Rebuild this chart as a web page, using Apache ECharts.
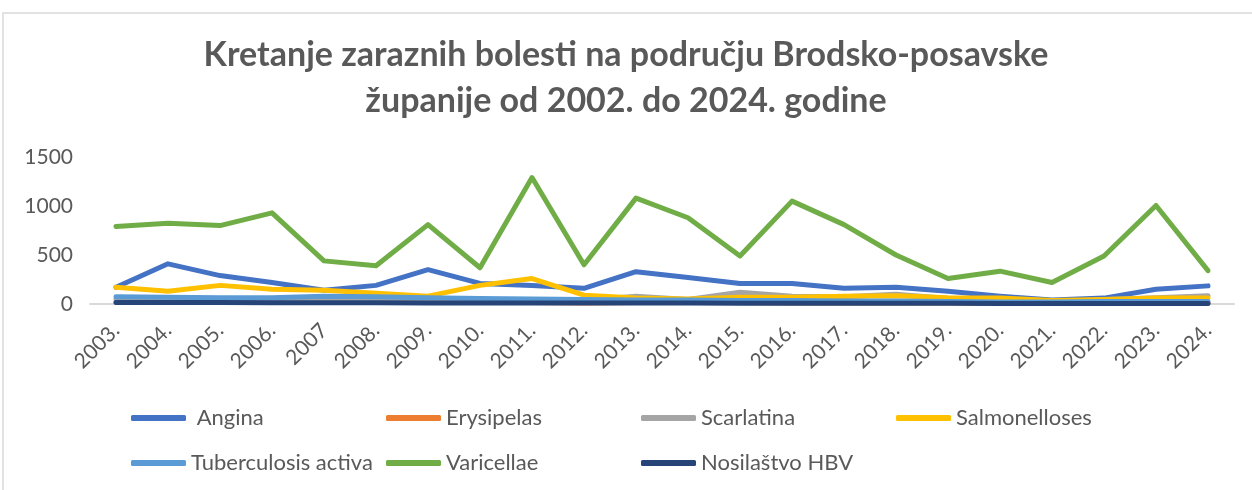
<!DOCTYPE html>
<html>
<head>
<meta charset="utf-8">
<script src="https://cdn.jsdelivr.net/npm/echarts@6/dist/echarts.min.js"></script>
<style>
  html, body { margin: 0; padding: 0; background: #fff; }
  #chart { width: 1252px; height: 490px; }
</style>
</head>
<body>
<div id="chart"></div>
<script>
// data
const years = ['2003.', '2004.', '2005.', '2006.', '2007', '2008.', '2009.', '2010.', '2011.', '2012.', '2013.',
  '2014.', '2015.', '2016.', '2017.', '2018.', '2019.', '2020.', '2021.', '2022.', '2023.', '2024.'];
const yTicks = [0, 500, 1000, 1500];

const angina = [170, 410, 290, 220, 140, 190, 350, 210, 190, 160, 330, 270, 210, 210, 160, 170, 130, 80, 40, 60, 150, 185];
const erysipelas = [20, 20, 15, 20, 20, 15, 15, 15, 15, 10, 15, 15, 15, 10, 10, 10, 10, 5, 5, 10, 10, 10];
const scarlatina = [50, 40, 35, 35, 40, 45, 40, 30, 25, 35, 80, 45, 120, 80, 75, 100, 55, 40, 20, 45, 65, 85];
const salmonelloses = [170, 130, 190, 150, 140, 110, 80, 190, 260, 90, 60, 50, 70, 70, 80, 85, 65, 60, 35, 45, 60, 60];
const tuberculosis = [75, 70, 65, 65, 80, 75, 65, 55, 50, 45, 40, 40, 35, 35, 30, 30, 25, 20, 20, 25, 25, 25];
const varicellae = [790, 825, 800, 930, 440, 390, 810, 370, 1290, 400, 1080, 880, 490, 1050, 810, 500, 260, 335, 220, 490, 1005, 340];
const hbv = [15, 15, 15, 12, 12, 12, 10, 10, 10, 10, 10, 10, 8, 8, 8, 8, 8, 5, 5, 5, 5, 5];

const names = [' Angina', 'Erysipelas', 'Scarlatina', 'Salmonelloses', 'Tuberculosis activa', 'Varicellae', 'Nosilaštvo HBV'];
const values = [angina, erysipelas, scarlatina, salmonelloses, tuberculosis, varicellae, hbv];
const colors = ['#4472C4', '#ED7D31', '#A5A5A5', '#FFC000', '#5B9BD5', '#70AD47', '#264478'];

const font = 'Lato, "Open Sans", sans-serif';
const textColor = '#595959';

const chart = echarts.init(document.getElementById('chart'), null, { renderer: 'canvas' });

// one legend per item so they sit in a 4-column grid like the Excel one
const legends = names.map((n, i) => ({
  data: [n],
  left: 131 + (i % 4) * 255,
  top: 406 + Math.floor(i / 4) * 45,
  padding: 0,
  itemWidth: 55,
  itemHeight: 6,
  icon: 'roundRect',
  selectedMode: false,
  textStyle: { color: textColor, fontSize: 22, fontFamily: font, lineHeight: 24 }
}));

chart.setOption({
  backgroundColor: '#fff',
  animation: false,
  title: {
    text: 'Kretanje zaraznih bolesti na području Brodsko-posavske\nžupanije od 2002. do 2024. godine',
    left: 'center',
    top: 32,
    padding: 0,
    textStyle: {
      color: textColor,
      fontFamily: font,
      fontWeight: 'bold',
      fontSize: 34,
      lineHeight: 46
    }
  },
  graphic: [{
    type: 'rect',
    shape: { x: 3, y: 13, width: 1400, height: 600 },
    style: { fill: 'none', stroke: '#D9D9D9', lineWidth: 1.5 },
    silent: true,
    z: -1
  }],
  legend: legends,
  grid: { left: 90, right: 18, top: 157, bottom: 186 },
  xAxis: {
    type: 'category',
    data: years,
    boundaryGap: true,
    axisLine: { lineStyle: { color: '#D9D9D9', width: 2 } },
    axisTick: { show: false },
    axisLabel: {
      rotate: 45,
      interval: 0,
      margin: 23,
      color: textColor,
      fontSize: 21,
      fontFamily: font
    }
  },
  yAxis: {
    type: 'value',
    min: yTicks[0],
    max: yTicks[yTicks.length - 1],
    interval: 500,
    axisLine: { show: false },
    axisTick: { show: false },
    splitLine: { show: false },
    axisLabel: { margin: 17, color: textColor, fontSize: 21, fontFamily: font, formatter: v => String(v) }
  },
  series: names.map((n, i) => ({
    name: n,
    type: 'line',
    data: values[i],
    symbol: 'none',
    color: colors[i],
    lineStyle: { width: 5, color: colors[i], cap: 'round', join: 'round' }
  }))
});
</script>
</body>
</html>
